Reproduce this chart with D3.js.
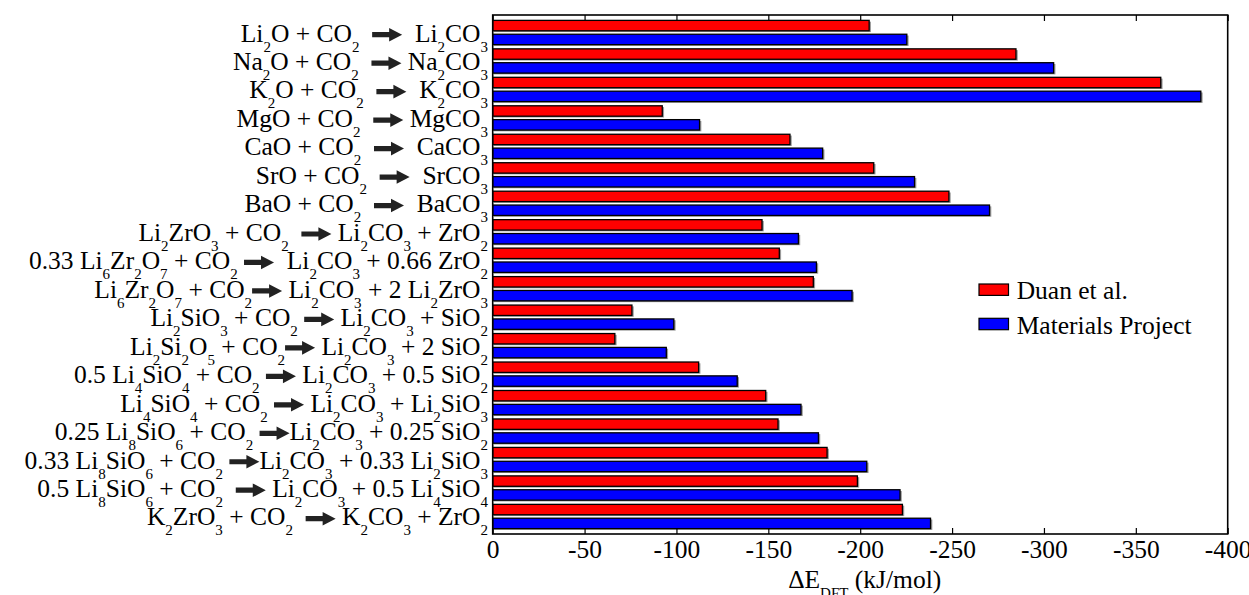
<!DOCTYPE html>
<html><head><meta charset="utf-8">
<script src="https://cdn.jsdelivr.net/npm/d3@7"></script>
<style>
svg, svg text, svg tspan { font-family: "Liberation Serif", "Times New Roman", Times, serif !important; }
</style>
</head><body style="margin:0;background:#fff">
<svg id="c" width="1249" height="595" font-family="Liberation Serif"></svg>
<script>
// ---- data ----
const categories = [
  "Li_2O + CO_2  >  Li_2CO_3",
  "Na_2O + CO_2  > Na_2CO_3",
  "K_2O + CO_2  >  K_2CO_3",
  "MgO + CO_2  > MgCO_3",
  "CaO + CO_2  >  CaCO_3",
  "SrO + CO_2  >  SrCO_3",
  "BaO + CO_2  >  BaCO_3",
  "Li_2ZrO_3 + CO_2  > Li_2CO_3 + ZrO_2",
  "0.33 Li_6Zr_2O_7 + CO_2 >  Li_2CO_3 + 0.66 ZrO_2",
  "Li_6Zr_2O_7 + CO_2> Li_2CO_3 + 2 Li_2ZrO_3",
  "Li_2SiO_3 + CO_2 > Li_2CO_3 + SiO_2",
  "Li_2Si_2O_5 + CO_2> Li_2CO_3 + 2 SiO_2",
  "0.5 Li_4SiO_4 + CO_2 > Li_2CO_3 + 0.5 SiO_2",
  "Li_4SiO_4 + CO_2 > Li_2CO_3 + Li_2SiO_3",
  "0.25 Li_8SiO_6 + CO_2 >Li_2CO_3 + 0.25 SiO_2",
  "0.33 Li_8SiO_6 + CO_2 >Li_2CO_3 + 0.33 Li_2SiO_3",
  "0.5 Li_8SiO_6 + CO_2  > Li_2CO_3 + 0.5 Li_4SiO_4",
  "K_2ZrO_3 + CO_2  > K_2CO_3 + ZrO_2"
];
const duanValues = [-205.2, -285.1, -363.9, -92.6, -162.1, -207.7, -248.6, -146.9, -156.3,
  -174.8, -76.1, -66.8, -112.4, -148.9, -155.6, -182.3, -198.8, -223.3];
const mpValues = [-225.7, -305.6, -385.7, -112.9, -179.9, -229.9, -270.7, -166.7, -176.5,
  -195.9, -98.9, -94.8, -133.4, -168.1, -177.6, -203.9, -222.0, -238.6];
const seriesNames = ["Duan et al.", "Materials Project"];
const seriesColors = ["#ff0000", "#0000ff"];
const xTicks = [0, -50, -100, -150, -200, -250, -300, -350, -400];

// ---- layout ----
const FONT = "Liberation Serif";
const svg = d3.select("#c");
const L = 492.7, R = 1227.7, T = 15, B = 534;
const FS = 25.5, SFS = 15;

function tx(sel, size) {
  return sel.attr("font-family", FONT)
    .attr("font-size", size).style("font-size", size + "px").attr("fill", "#000");
}

const x = d3.scaleLinear().domain([0, -400]).range([L, R]);
const y0 = d3.scaleBand().domain(d3.range(categories.length)).range([T, B])
  .paddingInner(0).paddingOuter(0.115);
const y1 = d3.scaleBand().domain([0, 1]).range([0, y0.bandwidth()])
  .paddingInner(0.155).paddingOuter(0.105);

const series = [duanValues, mpValues];
const barData = [];
categories.forEach((c, i) => series.forEach((vals, s) => barData.push({i, s, v: vals[i]})));

const sw = 1.3;
svg.append("g").selectAll("rect").data(barData).join("rect")
  .attr("x", x(0) + 1.2)
  .attr("y", d => y0(d.i) + y1(d.s) + sw / 2 + 1.3)
  .attr("width", d => x(d.v) - x(0))
  .attr("height", y1.bandwidth() - sw)
  .attr("fill", "#9a9a9a");
svg.append("g").selectAll("rect").data(barData).join("rect")
  .attr("x", x(0))
  .attr("y", d => y0(d.i) + y1(d.s) + sw / 2)
  .attr("width", d => x(d.v) - x(0) - 0.6)
  .attr("height", y1.bandwidth() - sw)
  .attr("fill", d => seriesColors[d.s])
  .attr("stroke", "#000").attr("stroke-width", sw);

const axB = svg.append("g").attr("transform", `translate(0,${B})`)
  .call(d3.axisBottom(x).tickValues(xTicks).tickFormat(d => String(d))
    .tickSizeInner(-6).tickSizeOuter(0));
axB.attr("font-family", FONT).attr("font-size", FS);
axB.select(".domain").remove();
axB.selectAll("line").attr("stroke", "#000").attr("stroke-width", 1.2);
tx(axB.selectAll("text").attr("y", 24.3).attr("dy", 0), FS);

const axT = svg.append("g").attr("transform", `translate(0,${T})`)
  .call(d3.axisTop(x).tickValues(xTicks).tickFormat("").tickSizeInner(-6).tickSizeOuter(0));
axT.select(".domain").remove();
axT.selectAll("line").attr("stroke", "#000").attr("stroke-width", 1.2);

svg.append("rect").attr("x", L).attr("y", T).attr("width", R - L).attr("height", B - T)
  .attr("fill", "none").attr("stroke", "#000").attr("stroke-width", 1.6);

function parseLabel(s) {
  const pieces = []; let i = 0;
  while (i < s.length) {
    const c = s[i];
    if (c === "_") { let j = i + 1; while (j < s.length && /[0-9]/.test(s[j])) j++; pieces.push({t: "sub", v: s.slice(i + 1, j)}); i = j; }
    else if (c === " ") { pieces.push({t: "sp"}); i++; }
    else if (c === ">") { pieces.push({t: "arrow"}); i++; }
    else { let j = i; while (j < s.length && !"_ >".includes(s[j])) j++; pieces.push({t: "txt", v: s.slice(i, j)}); i = j; }
  }
  return pieces;
}
const labelsG = svg.append("g");
categories.forEach((lab, i) => {
  const g = labelsG.append("g");
  let cur = 0;
  parseLabel(lab).forEach(p => {
    if (p.t === "txt" || p.t === "sub") {
      const t = tx(g.append("text").attr("x", cur).attr("y", p.t === "sub" ? 10 : 0), p.t === "sub" ? SFS : FS)
        .text(p.v);
      cur += t.node().getComputedTextLength();
    } else if (p.t === "sp") {
      cur += FS * 0.25;
    } else {
      const w = 30, hl = 13, hh = 6.8, sh = 2.6, cy = -6.8;
      g.append("path").attr("fill", "#222")
        .attr("d", `M${cur},${cy - sh}L${cur + w - hl},${cy - sh}L${cur + w - hl},${cy - hh}L${cur + w},${cy}L${cur + w - hl},${cy + hh}L${cur + w - hl},${cy + sh}L${cur},${cy + sh}Z`);
      cur += w;
    }
  });
  g.attr("transform", `translate(${488 - cur},${y0(i) + y0.bandwidth() / 2 + 9})`);
});

const leg = svg.append("g");
seriesNames.forEach((n, s) => {
  const cy = 289.7 + s * 34.3;
  leg.append("rect").attr("x", 979).attr("y", cy - 5.7).attr("width", 29.5).attr("height", 11.4)
    .attr("fill", seriesColors[s]).attr("stroke", "#000").attr("stroke-width", 1.2);
  tx(leg.append("text").attr("x", 1016.7).attr("y", cy + 9.6), FS).text(n);
});

const xl = tx(svg.append("text").attr("x", 864.7).attr("y", 587.7).attr("text-anchor", "middle"), FS);
xl.append("tspan").text("ΔE");
xl.append("tspan").attr("dy", 10).attr("font-size", SFS).style("font-size", SFS + "px").text("DFT");
xl.append("tspan").attr("dy", -10).text(" (kJ/mol)");
</script>
</body></html>
